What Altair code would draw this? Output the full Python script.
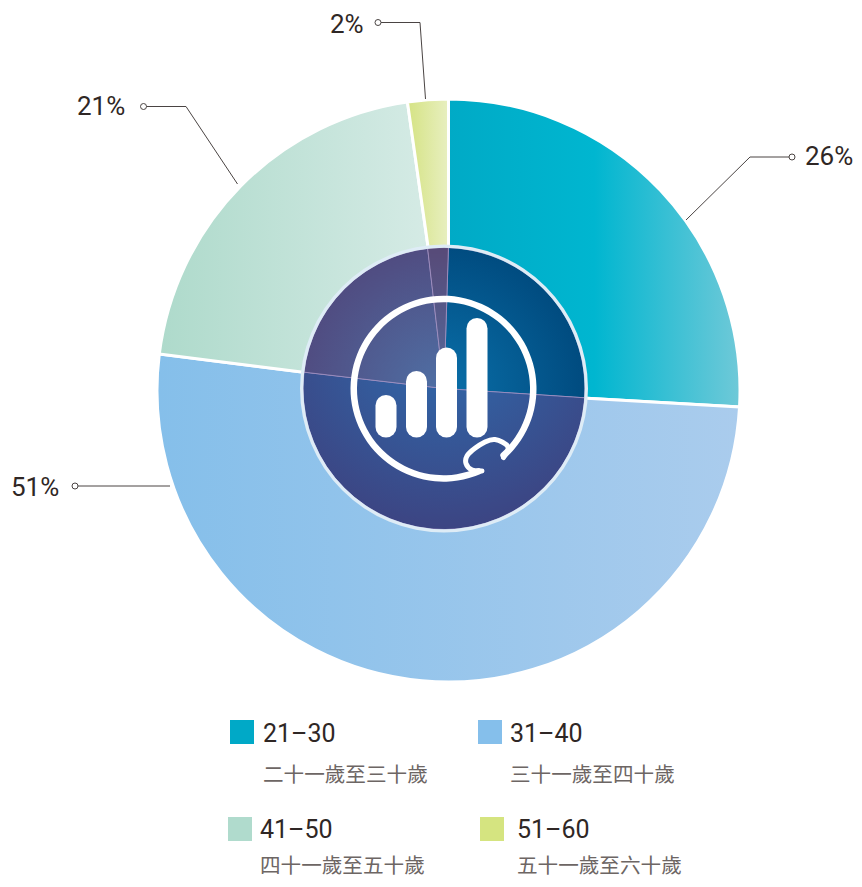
import altair as alt
import pandas as pd

# ---- data ----
groups = ["21–30", "31–40", "41–50", "51–60"]
groups_zh = ["二十一歲至三十歲", "三十一歲至四十歲", "四十一歲至五十歲", "五十一歲至六十歲"]
shares = [25.9, 51.1, 20.75, 2.25]
share_labels = ["26%", "51%", "21%", "2%"]
legend_colors = ["#00a9c7", "#85bfeb", "#b0dbcd", "#d5e480"]

# ---- styling / layout (page pixels) ----
outer_grad = [
    [("#00aac6", 0), ("#00b6d0", 0.5), ("#6fc9d8", 1)],
    [("#85bfea", 0), ("#aacced", 1)],
    [("#aedacb", 0), ("#d8ece7", 1)],
    [("#d5e384", 0), ("#e8efc0", 1)],
]
inner_edges = [0.5, 26.05, 76.85, 98.15, 100.5]
inner_grad = [
    ("#0a70aa", "#004a7e", 0.0, 0.94, 1.0),
    ("#2e6cae", "#3d4280", 0.5, 0.10, 0.72),
    ("#4f70a5", "#504b80", 1.0, 1.0, 1.05),
    ("#556a9c", "#574a78", 0.5, 1.0, 1.0),
]
W, H = 846, 871
PIE_X, PIE_Y, PIE_R = 448.5, 390.5, 291.5
HUB_X, HUB_Y, HUB_R = 444, 388.5, 141

SX = alt.Scale(domain=[8, 8 + W], nice=False, zero=False)
SY = alt.Scale(domain=[8 + H, 8], nice=False, zero=False)
ST = alt.Scale(domain=[0, 100])


def X(f="x"):
    return alt.X(f"{f}:Q", scale=SX, axis=None)


def Y(f="y"):
    return alt.Y(f"{f}:Q", scale=SY, axis=None)


def gradient(stops, **kw):
    return alt.Gradient(
        stops=[alt.GradientStop(color=c, offset=o) for c, o in stops], **kw
    )


layers = []

# outer slices
cum = 0
for val, stops in zip(shares, outer_grad):
    df = pd.DataFrame({"a": [cum], "b": [cum + val]})
    cum += val
    layers.append(
        alt.Chart(df)
        .mark_arc(
            outerRadius=PIE_R,
            innerRadius=0,
            fill=gradient(stops, gradient="linear", x1=0, x2=1, y1=0, y2=0),
            stroke="white",
            strokeWidth=3,
        )
        .encode(
            theta=alt.Theta("a:Q", scale=ST),
            theta2="b:Q",
            x=alt.value(PIE_X - 8),
            y=alt.value(PIE_Y - 8),
        )
    )

# hub wedges
for i, (c0, c1, cx, cy, r) in enumerate(inner_grad):
    df = pd.DataFrame({"a": [inner_edges[i]], "b": [inner_edges[i + 1]]})
    layers.append(
        alt.Chart(df)
        .mark_arc(
            outerRadius=HUB_R,
            innerRadius=0,
            fill=gradient(
                [(c0, 0), (c1, 1)],
                gradient="radial",
                x1=cx, y1=cy, r1=0, x2=cx, y2=cy, r2=r,
            ),
            stroke="#a593c4",
            strokeWidth=1,
            strokeOpacity=0.75,
        )
        .encode(
            theta=alt.Theta("a:Q", scale=ST),
            theta2="b:Q",
            x=alt.value(HUB_X - 8),
            y=alt.value(HUB_Y - 8),
        )
    )

# hub rim
layers.append(
    alt.Chart(pd.DataFrame({"a": [0], "b": [100]}))
    .mark_arc(outerRadius=HUB_R + 3, innerRadius=HUB_R - 0.3, fill="#deecf6")
    .encode(
        theta=alt.Theta("a:Q", scale=ST),
        theta2="b:Q",
        x=alt.value(HUB_X - 8),
        y=alt.value(HUB_Y - 8),
    )
)

# icon ring (open at the lower right)
layers.append(
    alt.Chart(pd.DataFrame({"a": [155 / 3.6], "b": [500 / 3.6]}))
    .mark_arc(outerRadius=93, innerRadius=86.5, fill="white", cornerRadius=3)
    .encode(
        theta=alt.Theta("a:Q", scale=ST),
        theta2="b:Q",
        x=alt.value(443.5 - 8),
        y=alt.value(388.7 - 8),
    )
)

# icon bars
bar_x = [386, 416.5, 446.5, 477]
bar_top = [405.5, 381.5, 358, 328.5]
bar_bottom = [427, 427, 427, 427]
layers.append(
    alt.Chart(pd.DataFrame({"x": bar_x, "y": bar_top, "y2": bar_bottom}))
    .mark_rule(color="white", strokeWidth=21, strokeCap="round")
    .encode(x=X(), y=Y(), y2="y2:Q")
)

# icon tail
tail_x = [503.5, 508, 495, 485, 467, 466, 472, 482]
tail_y = [457.5, 447, 439.5, 442, 456, 463.5, 470, 471]
layers.append(
    alt.Chart(pd.DataFrame({"x": tail_x, "y": tail_y, "o": range(len(tail_x))}))
    .mark_line(color="white", strokeWidth=5, strokeCap="round", strokeJoin="round",
               interpolate="catmull-rom")
    .encode(x=X(), y=Y(), order="o:Q")
)

# leader lines
leaders = {
    "26": ([792, 750, 686], [157, 157, 220]),
    "51": ([75, 170], [486, 486]),
    "21": ([143.5, 186, 237.5], [106.5, 106.5, 184]),
    "2": ([378, 420, 425.5], [22.5, 22.5, 99]),
}
rows = []
for k, (xs, ys) in leaders.items():
    for i, (a, b) in enumerate(zip(xs, ys)):
        rows.append({"k": k, "i": i, "x": a, "y": b})
ldf = pd.DataFrame(rows)
layers.append(
    alt.Chart(ldf)
    .mark_line(color="#4a4443", strokeWidth=1)
    .encode(x=X(), y=Y(), detail="k:N", order="i:Q")
)
layers.append(
    alt.Chart(ldf[ldf.i == 0])
    .mark_point(shape="circle", filled=True, fill="white", stroke="#4a4443",
                strokeWidth=1, opacity=1, size=36)
    .encode(x=X(), y=Y())
)

# share labels (26% and 2% nudged so that they stay inside the drawing area)
layers.append(
    alt.Chart(pd.DataFrame({
        "t": share_labels,
        "x": [805, 11, 77, 330],
        "y": [165, 496, 115, 33],
    }))
    .mark_text(align="left", baseline="alphabetic", font="Roboto", fontSize=26,
               color="#2f2725")
    .encode(x=X(), y=Y(), text="t:N")
)

# legend (lower row lifted to stay inside the drawing area)
sq_x = [242, 490, 240, 492]
sq_y = [732, 732, 829, 829]
text_x = [263, 510, 260, 517]
base_y = [741.5, 741.5, 838, 838]
zh_y = [782, 782, 872.5, 872.5]
layers.append(
    alt.Chart(pd.DataFrame({"x": sq_x, "y": sq_y, "c": legend_colors}))
    .mark_square(size=576, opacity=1)
    .encode(x=X(), y=Y(), color=alt.Color("c:N", scale=None))
)
layers.append(
    alt.Chart(pd.DataFrame({"t": groups, "x": text_x, "y": base_y}))
    .mark_text(align="left", baseline="alphabetic", font="Roboto", fontSize=25,
               color="#2f2725")
    .encode(x=X(), y=Y(), text="t:N")
)
layers.append(
    alt.Chart(pd.DataFrame({"t": groups_zh, "x": text_x, "y": zh_y}))
    .mark_text(align="left", baseline="alphabetic", font="Noto Sans CJK TC",
               fontSize=20.6, color="#6d6664")
    .encode(x=X(), y=Y(), text="t:N")
)

chart = (
    alt.layer(*layers)
    .properties(width=W, height=H, padding=0, autosize=alt.AutoSizeParams(type="none"),
                background="white")
    .configure_view(stroke=None)
)
chart.save("out.html", embed_options={"renderer": "svg", "actions": False})
